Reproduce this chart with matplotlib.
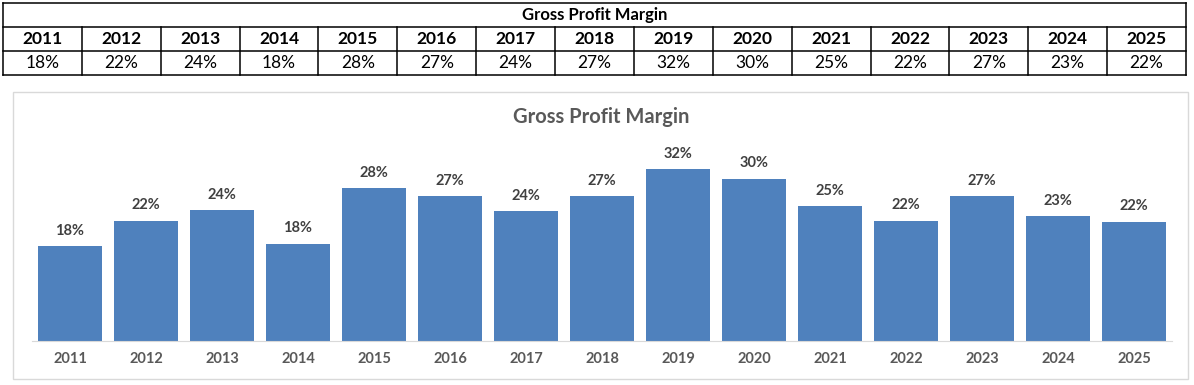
import matplotlib.pyplot as plt
from matplotlib.patches import Rectangle

plt.rcParams["font.family"] = ["Lato", "DejaVu Sans"]

years = ["2011", "2012", "2013", "2014", "2015", "2016", "2017", "2018",
         "2019", "2020", "2021", "2022", "2023", "2024", "2025"]
margin = [0.177, 0.224, 0.244, 0.181, 0.284, 0.270, 0.242, 0.270,
          0.320, 0.302, 0.251, 0.224, 0.270, 0.232, 0.222]
title = "Gross Profit Margin"

W, H = 1194, 385
fig = plt.figure(figsize=(W / 100, H / 100), dpi=100)


def px_axes(x0, y0, x1, y1):
    """Axes placed by pixel box (top-left origin)."""
    return fig.add_axes([x0 / W, 1 - y1 / H, (x1 - x0) / W, (y1 - y0) / H])


# ---- table on top ----
n = len(years)
tab = px_axes(3, 3, 1186, 75)
tab.set_xlim(0, n)
tab.set_ylim(3, 0)
tab.axis("off")
lw = 1.1
for y in (0, 1, 2, 3):
    tab.plot([0, n], [y, y], color="black", lw=lw, clip_on=False)
tab.plot([0, 0], [0, 3], color="black", lw=lw, clip_on=False)
tab.plot([n, n], [0, 3], color="black", lw=lw, clip_on=False)
for i in range(1, n):
    tab.plot([i, i], [1, 3], color="black", lw=lw, clip_on=False)
tab.text(n / 2, 0.52, title, ha="center", va="center", fontsize=12,
         fontweight="bold", color="black")
for i, (yr, v) in enumerate(zip(years, margin)):
    tab.text(i + 0.5, 1.52, yr, ha="center", va="center", fontsize=12.5,
             fontweight="bold", color="black")
    tab.text(i + 0.5, 2.52, f"{v:.0%}", ha="center", va="center",
             fontsize=12.5, color="black")

# ---- chart box ----
fig.patches.append(Rectangle((13 / W, 1 - 379 / H), (1188 - 13) / W,
                             (379 - 92) / H, transform=fig.transFigure,
                             fill=False, edgecolor="#d9d9d9", lw=1))
fig.text(601 / W, 1 - 117 / H, title, ha="center", va="center",
         fontsize=14.5, fontweight="bold", color="#595959")

ax = px_axes(32, 153, 1172, 341)
x = range(n)
bars = ax.bar(x, margin, width=0.83, color="#4f81bd")
ax.set_xlim(-0.5, n - 0.5)
ax.set_ylim(0, 0.35)
for b, v in zip(bars, margin):
    ax.annotate(f"{v:.0%}", (b.get_x() + b.get_width() / 2, v),
                xytext=(0, 6), textcoords="offset points", ha="center",
                va="bottom", fontsize=10.5, fontweight="bold", color="#404040",
                annotation_clip=False)
ax.set_xticks(list(x))
ax.set_xticklabels(years, fontsize=10.5, fontweight="bold", color="#595959")
ax.tick_params(axis="x", length=0, pad=8)
ax.set_yticks([])
for s in ("top", "right", "left"):
    ax.spines[s].set_visible(False)
ax.spines["bottom"].set_color("#d9d9d9")
ax.patch.set_alpha(0)

fig.savefig("out.png", dpi=100)
